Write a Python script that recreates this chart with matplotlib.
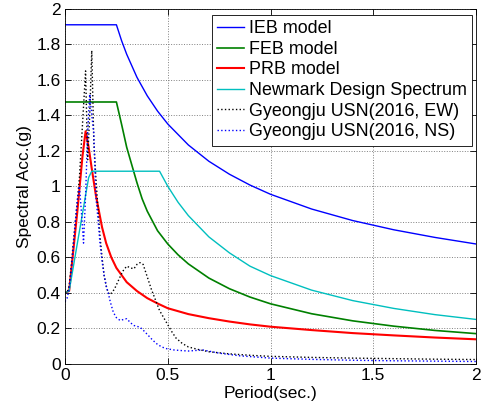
import matplotlib
matplotlib.use("Agg")
import matplotlib.pyplot as plt
from matplotlib.ticker import FuncFormatter

plt.rcParams['font.family'] = ['Liberation Sans', 'DejaVu Sans']
plt.rcParams['font.size'] = 12.5

# model spectra (period in sec, acc in g)
ieb_T = [0.0, 0.25, 0.275, 0.3, 0.35, 0.4, 0.45, 0.5, 0.6, 0.7, 0.8, 0.9, 1.0, 1.2, 1.4, 1.6, 1.8, 2.0]
ieb_A = [1.91, 1.91, 1.821, 1.744, 1.614, 1.51, 1.424, 1.351, 1.233, 1.141, 1.068, 1.007, 0.955, 0.872, 0.807, 0.755, 0.712, 0.675]

feb_T = [0.0, 0.25, 0.275, 0.3, 0.325, 0.35, 0.375, 0.4, 0.45, 0.5, 0.55, 0.6, 0.7, 0.8, 0.9, 1.0, 1.2, 1.4, 1.6, 1.8, 2.0]
feb_A = [1.475, 1.475, 1.35, 1.22, 1.12, 1.02, 0.93, 0.86, 0.75, 0.675, 0.614, 0.563, 0.483, 0.423, 0.376, 0.338, 0.282, 0.242, 0.212, 0.188, 0.17]

prb_T = [0.0, 0.02, 0.06, 0.085, 0.1, 0.115, 0.13, 0.15, 0.165, 0.18, 0.2, 0.225, 0.25, 0.275, 0.3, 0.35, 0.4, 0.45, 0.5,
         0.6, 0.7, 0.8, 0.9, 1.0, 1.2, 1.4, 1.6, 1.8, 2.0]
prb_A = [0.40, 0.41, 0.86, 1.17, 1.31, 1.22, 1.10, 0.95, 0.86, 0.77, 0.68, 0.60, 0.54, 0.50, 0.46, 0.41, 0.37, 0.34, 0.313,
         0.28, 0.257, 0.238, 0.222, 0.209, 0.19, 0.173, 0.16, 0.148, 0.138]

nm_T = [0.0, 0.02, 0.115, 0.13, 0.46, 0.5, 0.55, 0.6, 0.7, 0.8, 0.9, 1.0, 1.2, 1.4, 1.6, 1.8, 2.0]
nm_A = [0.40, 0.41, 1.05, 1.085, 1.085, 1.0, 0.91, 0.835, 0.715, 0.625, 0.55, 0.497, 0.415, 0.356, 0.312, 0.277, 0.25]

# recorded spectra, Gyeongju 2016
ew_T = [0.0, 0.01, 0.02, 0.03, 0.04, 0.05, 0.06, 0.07, 0.08, 0.09, 0.10, 0.11, 0.12, 0.13, 0.14, 0.15, 0.16, 0.17,
        0.18, 0.19, 0.20, 0.21, 0.22, 0.24, 0.26, 0.28, 0.30, 0.32, 0.335, 0.35, 0.365, 0.38, 0.40, 0.42, 0.44,
        0.46, 0.48, 0.50, 0.52, 0.54, 0.57, 0.60, 0.65, 0.70, 0.80, 0.90, 1.0, 1.2, 1.4, 1.6, 1.8, 2.0]
ew_A = [0.40, 0.40, 0.44, 0.55, 0.68, 0.80, 0.92, 1.05, 1.25, 1.45, 1.65, 1.15, 1.40, 1.765, 1.25, 1.05, 0.88, 0.72,
        0.60, 0.50, 0.44, 0.40, 0.39, 0.42, 0.47, 0.52, 0.55, 0.54, 0.535, 0.56, 0.57, 0.56, 0.49, 0.42, 0.36,
        0.30, 0.26, 0.22, 0.18, 0.145, 0.115, 0.095, 0.08, 0.068, 0.056, 0.048, 0.042, 0.036, 0.032, 0.029, 0.026, 0.024]

ns_T = [0.0, 0.01, 0.02, 0.03, 0.04, 0.05, 0.06, 0.07, 0.08, 0.09, 0.10, 0.11, 0.12, 0.13, 0.14, 0.15, 0.16, 0.17,
        0.18, 0.19, 0.20, 0.21, 0.22, 0.235, 0.25, 0.268, 0.285, 0.30, 0.32, 0.335, 0.365, 0.38, 0.405, 0.425,
        0.446, 0.47, 0.495, 0.53, 0.56, 0.60, 0.67, 0.75, 0.85, 1.0, 1.2, 1.4, 1.6, 1.8, 2.0]
ns_A = [0.35, 0.37, 0.42, 0.52, 0.65, 0.80, 0.92, 1.0, 0.85, 0.68, 0.95, 1.30, 1.52, 1.40, 1.30, 0.94, 0.82, 0.68,
        0.58, 0.50, 0.44, 0.40, 0.35, 0.29, 0.26, 0.244, 0.25, 0.254, 0.23, 0.216, 0.206, 0.19, 0.16, 0.135,
        0.113, 0.095, 0.085, 0.078, 0.075, 0.072, 0.078, 0.06, 0.045, 0.032, 0.025, 0.02, 0.017, 0.015, 0.013]

fig = plt.figure(figsize=(4.89, 4.04), dpi=100)
ax = fig.add_axes([0.133, 0.0995, 0.8405, 0.8787])

ax.plot(ieb_T, ieb_A, color='#0000ff', lw=1.0, label='IEB model')
ax.plot(feb_T, feb_A, color='#008000', lw=1.2, label='FEB model')
ax.plot(prb_T, prb_A, color='#ff0000', lw=1.5, label='PRB model')
ax.plot(nm_T, nm_A, color='#00bfbf', lw=1.0, label='Newmark Design Spectrum')
ax.plot(ew_T, ew_A, color='k', ls=':', lw=1.0, label='Gyeongju USN(2016, EW)')
ax.plot(ns_T, ns_A, color='#0000ff', ls=':', lw=1.0, label='Gyeongju USN(2016, NS)')

ax.set_xlim(0, 2)
ax.set_ylim(0, 2)
ax.set_xticks([0, 0.5, 1, 1.5, 2])
ax.set_yticks([0, 0.2, 0.4, 0.6, 0.8, 1.0, 1.2, 1.4, 1.6, 1.8, 2.0])
ax.xaxis.set_major_formatter(FuncFormatter(lambda v, p: '%g' % v))
ax.yaxis.set_major_formatter(FuncFormatter(lambda v, p: '%g' % v))
ax.tick_params(direction='in', top=True, right=True, length=4, width=0.6, pad=3)
ax.grid(True, ls=':', color='#808080', lw=0.7)
for s in ax.spines.values():
    s.set_linewidth(0.6)

ax.set_xlabel('Period(sec.)', labelpad=2)
ax.set_ylabel('Spectral Acc.(g)', labelpad=3)

leg = ax.legend(loc='upper right', bbox_to_anchor=(0.990, 0.983), borderaxespad=0, fontsize=12.9,
                handlelength=1.5, handletextpad=0.25, borderpad=0.3, labelspacing=0.2,
                fancybox=False, framealpha=1, edgecolor='k')
leg.get_frame().set_linewidth(0.6)

fig.savefig('out.png', dpi=100)
